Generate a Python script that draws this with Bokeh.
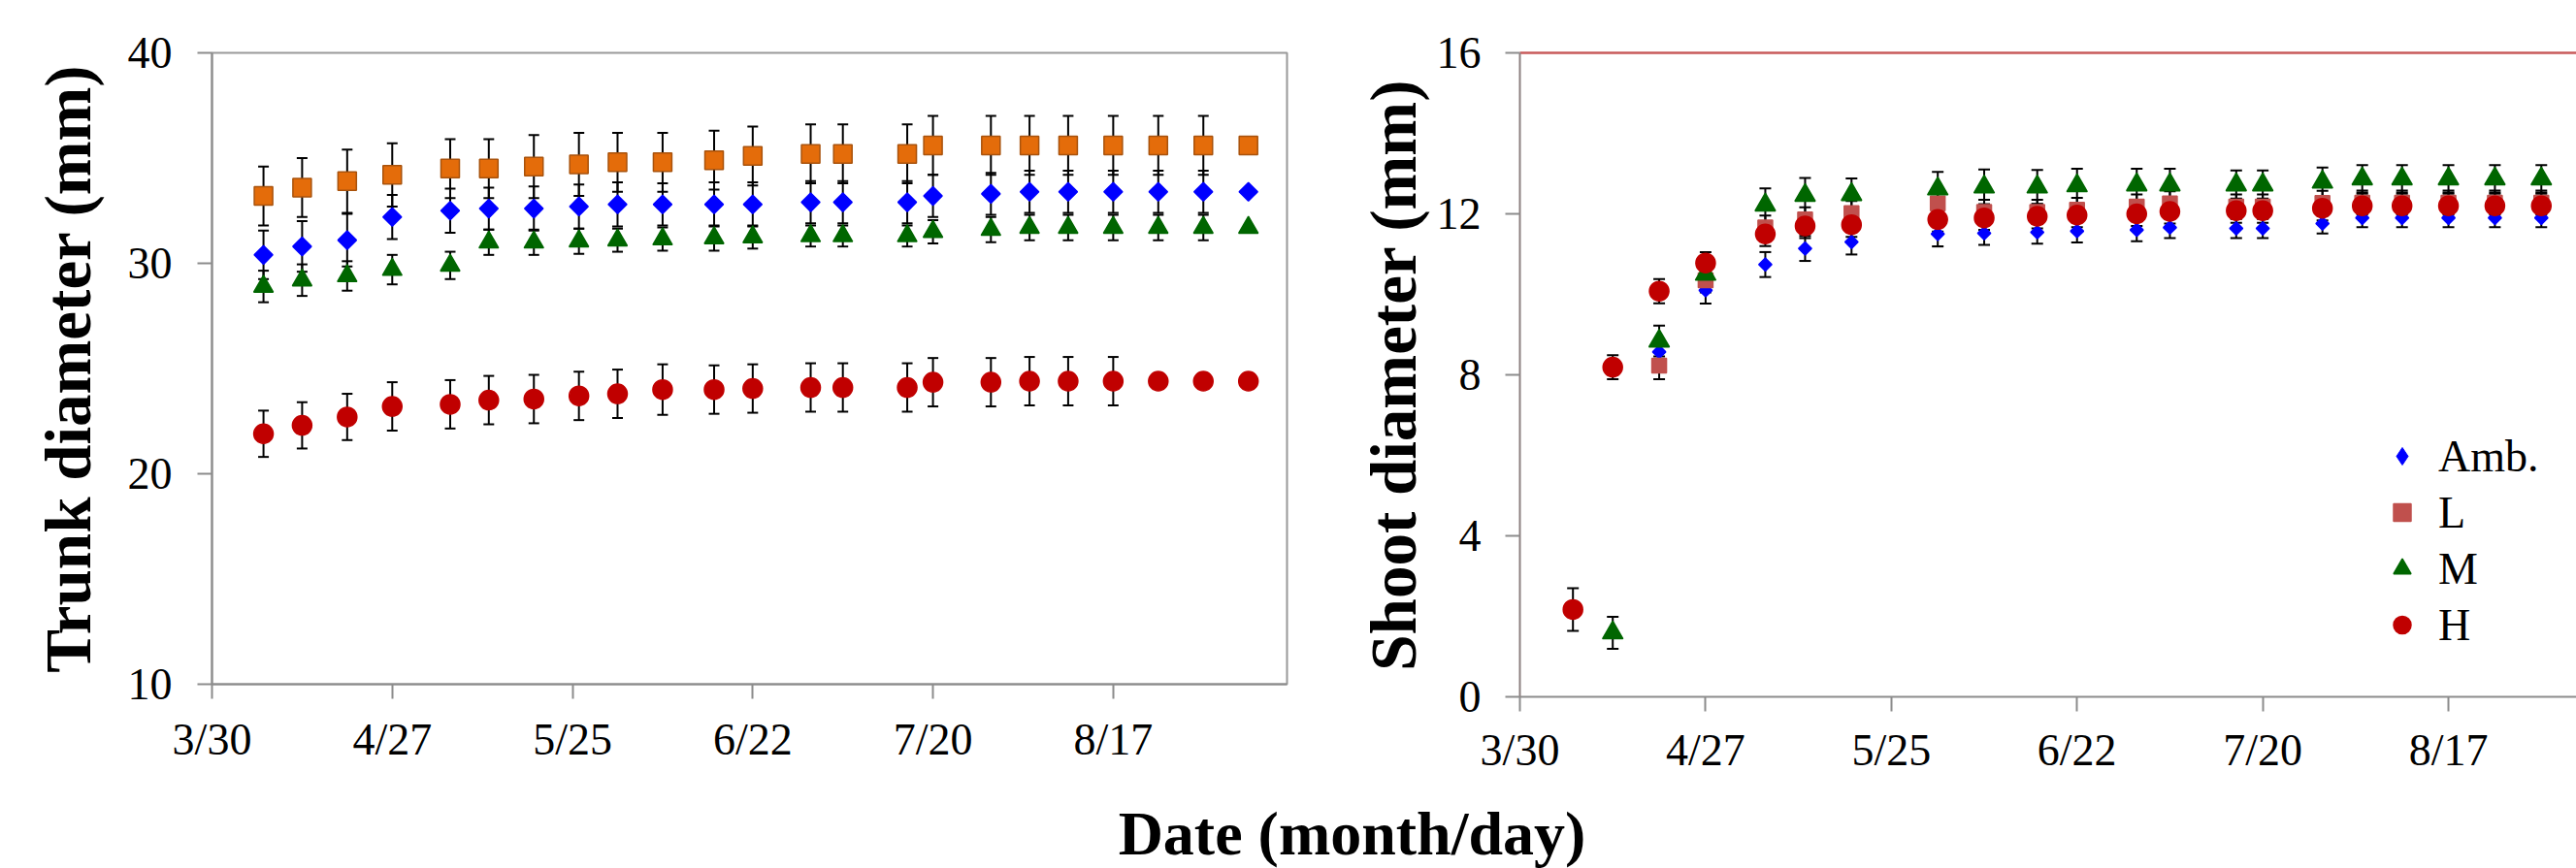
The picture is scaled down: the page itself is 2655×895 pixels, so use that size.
import math
import pandas as pd
from bokeh.plotting import figure
from bokeh.layouts import column, row
from bokeh.models import (ColumnDataSource, Range1d, FixedTicker, Whisker, TeeHead,
                          Legend, LegendItem, Label, LinearAxis)
from bokeh.embed import file_html
from bokeh.resources import INLINE

nan = float("nan")

# ---------------- data ----------------
YEAR = "2010"
start_date = "3/30"
trunk_end_date = "9/13"
dates = ["4/7", "4/13", "4/20", "4/27", "5/6", "5/12", "5/19", "5/26", "6/1", "6/8",
         "6/16", "6/22", "7/1", "7/6", "7/16", "7/20", "7/29", "8/4", "8/10", "8/17",
         "8/24", "8/31", "9/7"]
tick_labels = ["3/30", "4/27", "5/25", "6/22", "7/20", "8/17"]
series_names = ["Amb.", "L", "M", "H"]

# Trunk diameter (mm)
trunk_amb = [30.4, 30.8, 31.1, 32.2, 32.5, 32.6, 32.6, 32.7, 32.8, 32.8, 32.8, 32.8,
             32.9, 32.9, 32.9, 33.2, 33.3, 33.4, 33.4, 33.4, 33.4, 33.4, 33.4]
trunk_l = [33.2, 33.6, 33.9, 34.2, 34.5, 34.5, 34.6, 34.7, 34.8, 34.8, 34.9, 35.1,
           35.2, 35.2, 35.2, 35.6, 35.6, 35.6, 35.6, 35.6, 35.6, 35.6, 35.6]
trunk_m = [28.9, 29.2, 29.4, 29.7, 29.9, 31.0, 31.0, 31.05, 31.1, 31.15, 31.2, 31.25,
           31.3, 31.3, 31.3, 31.5, 31.6, 31.7, 31.7, 31.7, 31.7, 31.7, 31.7]
trunk_h = [21.9, 22.3, 22.7, 23.2, 23.3, 23.5, 23.55, 23.7, 23.8, 24.0, 24.0, 24.05,
           24.1, 24.1, 24.1, 24.35, 24.35, 24.4, 24.4, 24.4, 24.4, 24.4, 24.4]
trunk_amb_err = [1.15, 1.2, 1.25, 1.05, 1.05, 1.0, 1.05, 1.05, 1.05, 1.0, 1.05, 1.05,
                 1.0, 1.0, 1.0, 1.0, 1.0, 1.0, 1.0, 1.0, 1.0, 1.0, 0]
trunk_l_err = [1.4, 1.4, 1.5, 1.5, 1.4, 1.4, 1.5, 1.5, 1.4, 1.4, 1.4, 1.4,
               1.4, 1.4, 1.4, 1.4, 1.4, 1.4, 1.4, 1.4, 1.4, 1.4, 0]
trunk_m_err = [0.75, 0.75, 0.7, 0.7, 0.65, 0.6, 0.6, 0.6, 0.55, 0.55, 0.6, 0.55,
               0.5, 0.5, 0.5, 0.55, 0.6, 0.6, 0.6, 0.6, 0.6, 0.6, 0]
trunk_h_err = [1.1, 1.1, 1.1, 1.15, 1.15, 1.15, 1.15, 1.15, 1.15, 1.2, 1.15, 1.15,
               1.15, 1.15, 1.15, 1.15, 1.15, 1.15, 1.15, 1.15, 0, 0, 0]

# Shoot diameter (mm)
shoot_amb = [nan, nan, 8.57, 10.10, 10.74, 11.14, 11.30, nan, 11.50, 11.52, 11.54, 11.57,
             11.60, 11.66, 11.64, 11.64, 11.76, 11.90, 11.90, 11.90, 11.90, 11.90, nan]
shoot_l = [nan, nan, 8.23, 10.35, 11.66, 11.86, 12.02, nan, 12.26, 12.05, 12.05, 12.10,
           12.18, 12.26, 12.18, 12.18, 12.27, 12.28, 12.28, 12.28, 12.28, 12.28, nan]
shoot_m = [nan, 1.59, 8.84, 10.50, 12.22, 12.46, 12.48, nan, 12.62, 12.67, 12.67, 12.70,
           12.72, 12.72, 12.72, 12.72, 12.79, 12.87, 12.87, 12.87, 12.87, 12.87, nan]
shoot_h = [2.17, 8.19, 10.08, 10.78, 11.50, 11.70, 11.73, nan, 11.86, 11.90, 11.94, 11.97,
           12.00, 12.06, 12.08, 12.08, 12.14, 12.20, 12.20, 12.20, 12.20, 12.20, nan]
shoot_amb_err = [nan, nan, 0.3, 0.33, 0.31, 0.31, 0.31, nan, 0.31, 0.29, 0.28, 0.28,
                 0.28, 0.26, 0.24, 0.24, 0.25, 0.23, 0.23, 0.23, 0.23, 0.23, nan]
shoot_l_err = [nan, nan, 0.34, 0.3, 0.3, 0.3, 0.3, nan, 0.3, 0.3, 0.3, 0.3,
               0.3, 0.3, 0.3, 0.3, 0.3, 0.3, 0.3, 0.3, 0.3, 0.3, nan]
shoot_m_err = [nan, 0.4, 0.38, 0.4, 0.41, 0.43, 0.4, nan, 0.42, 0.43, 0.42, 0.42,
               0.4, 0.4, 0.36, 0.36, 0.36, 0.34, 0.34, 0.34, 0.34, 0.34, nan]
shoot_h_err = [0.53, 0.3, 0.3, 0.27, 0.3, 0.3, 0.3, nan, 0.3, 0.3, 0.3, 0.3,
               0.3, 0.3, 0.3, 0.3, 0.3, 0.3, 0.3, 0.3, 0.3, 0.3, nan]

# ---------------- helpers ----------------
FONT = "Liberation Serif"
AX_GRAY = "#8c8c8c"


def to_day(s):
    t0 = pd.to_datetime(f"{YEAR}/{start_date}", format="%Y/%m/%d")
    return (pd.to_datetime(f"{YEAR}/{s}", format="%Y/%m/%d") - t0).days


days = [to_day(d) for d in dates]
tick_days = [to_day(t) for t in tick_labels]


def ok(v):
    return v is not None and not math.isnan(v)


def style_axes(p, ylabel, xstand, ystand, ylab_stand, axis_color):
    p.xgrid.visible = False
    p.ygrid.visible = False
    p.background_fill_color = "white"
    p.border_fill_color = "white"
    for ax in (p.xaxis[0], p.yaxis[0]):
        ax.axis_line_color = AX_GRAY
        ax.axis_line_width = 2
        ax.major_tick_line_color = AX_GRAY
        ax.major_tick_line_width = 2
        ax.major_tick_out = 15
        ax.major_tick_in = 0
        ax.minor_tick_line_color = None
        ax.major_label_text_font = FONT
        ax.major_label_text_font_size = "46px"
        ax.major_label_text_color = "black"
        ax.axis_label_text_font = FONT
        ax.axis_label_text_font_style = "bold"
        ax.axis_label_text_font_size = "67px"
        ax.axis_label_text_color = "black"
    p.yaxis[0].axis_line_color = axis_color
    p.xaxis[0].ticker = FixedTicker(ticks=tick_days)
    p.xaxis[0].major_label_overrides = {d: lab for d, lab in zip(tick_days, tick_labels)}
    p.xaxis[0].major_label_standoff = xstand
    p.yaxis[0].major_label_standoff = ystand
    p.yaxis[0].axis_label = ylabel
    p.yaxis[0].axis_label_standoff = ylab_stand


def add_series(p, ys, errs, marker, size, fill, line, angle=0.0, cap=11):
    xs_w, lo, hi = [], [], []
    xs_p, ys_p = [], []
    for x, y, e in zip(days, ys, errs):
        if not ok(y):
            continue
        xs_p.append(x)
        ys_p.append(y)
        if ok(e) and e > 0:
            xs_w.append(x)
            lo.append(y - e)
            hi.append(y + e)
    wsrc = ColumnDataSource(dict(x=xs_w, lo=lo, hi=hi))
    w = Whisker(source=wsrc, base="x", lower="lo", upper="hi", dimension="height",
                line_color="black", line_width=2,
                upper_head=TeeHead(size=cap, line_color="black", line_width=2),
                lower_head=TeeHead(size=cap, line_color="black", line_width=2))
    p.add_layout(w)
    src = ColumnDataSource(dict(x=xs_p, y=ys_p))
    r = p.scatter("x", "y", source=src, marker=marker, size=size, angle=angle,
                  fill_color=fill, line_color=line, line_width=1.5)
    return r, src


# ---------------- left panel: trunk ----------------
left = figure(width=1390, height=809, output_backend="svg", toolbar_location=None,
              x_range=Range1d(0, to_day(trunk_end_date)), y_range=Range1d(10, 40),
              min_border_left=218, min_border_right=64, min_border_top=54,
              min_border_bottom=104)
left.outline_line_color = "#9a9a9a"
left.outline_line_width = 2
style_axes(left, "Trunk diameter (mm)", xstand=16, ystand=26, ylab_stand=22,
           axis_color=AX_GRAY)
left.yaxis[0].ticker = FixedTicker(ticks=[10, 20, 30, 40])

add_series(left, trunk_amb, trunk_amb_err, "square", 13.5, "#0000FF", "#0000FF", angle=math.pi / 4)
add_series(left, trunk_l, trunk_l_err, "square", 19, "#E46C0A", "#A8520C")
add_series(left, trunk_m, trunk_m_err, "triangle", 20, "#006600", "#006600")
add_series(left, trunk_h, trunk_h_err, "circle", 20, "#C00000", "#C00000")

# ---------------- right panel: shoot ----------------
right_end = 159.3
right = figure(width=1265, height=822, output_backend="svg", toolbar_location=None,
               x_range=Range1d(0, right_end), y_range=Range1d(0, 16),
               min_border_left=176, min_border_right=0, min_border_top=54,
               min_border_bottom=104)
right.outline_line_color = None
style_axes(right, "Shoot diameter (mm)", xstand=14, ystand=25, ylab_stand=5,
           axis_color="#8c8080")
right.yaxis[0].ticker = FixedTicker(ticks=[0, 4, 8, 12, 16])

# red top border line of the shoot panel
top_line = LinearAxis(ticker=FixedTicker(ticks=[]), axis_line_color="#C85A5A",
                      axis_line_width=2.5, major_tick_line_color=None,
                      minor_tick_line_color=None, major_label_text_font_size="0px")
right.add_layout(top_line, "above")

r_amb, amb_src = add_series(right, shoot_amb, shoot_amb_err, "square", 9.5, "#0000FF",
                            "#0000FF", angle=math.pi / 4, cap=12)
r_l, _ = add_series(right, shoot_l, shoot_l_err, "square", 15, "#C0504D", "#C0504D", cap=12)
r_m, _ = add_series(right, shoot_m, shoot_m_err, "triangle", 21, "#006600", "#006600", cap=12)
r_h, _ = add_series(right, shoot_h, shoot_h_err, "circle", 20, "#C00000", "#C00000", cap=12)

# legend key for the diamond (legend ignores marker angle): hidden twin of the Amb. series
amb_key = right.scatter("x", "y", source=amb_src, marker="diamond", fill_color="#0000FF",
                        line_color="#0000FF", visible=False)

legend = Legend(items=[LegendItem(label=series_names[0], renderers=[amb_key]),
                       LegendItem(label=series_names[1], renderers=[r_l]),
                       LegendItem(label=series_names[2], renderers=[r_m]),
                       LegendItem(label=series_names[3], renderers=[r_h])],
                location=(887, 45), orientation="vertical",
                border_line_color=None, background_fill_alpha=0,
                inactive_fill_alpha=0,
                padding=0, margin=0, spacing=0,
                glyph_width=45, glyph_height=58, label_height=58, label_standoff=15,
                label_text_font=FONT, label_text_font_size="46px",
                label_text_color="black")
right.add_layout(legend)

# ---------------- shared x title ----------------
strip = figure(width=2655, height=73, output_backend="svg", toolbar_location=None,
               x_range=Range1d(0, 1), y_range=Range1d(0, 1), min_border=0,
               x_axis_location=None, y_axis_location=None)
strip.outline_line_color = None
strip.xgrid.visible = False
strip.ygrid.visible = False
strip.add_layout(Label(x=1393, y=36, x_units="screen", y_units="screen",
                       text="Date (month/day)", text_align="center",
                       text_baseline="middle", text_font=FONT,
                       text_font_style="bold", text_font_size="64px",
                       text_color="black"))

layout = column(row(left, right, spacing=0), strip, spacing=0)

open("out.html", "w").write(file_html(layout, INLINE))
